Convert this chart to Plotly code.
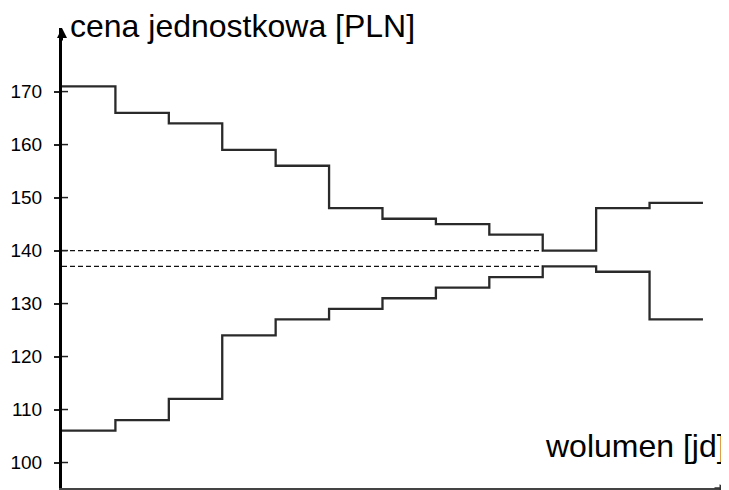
import plotly.graph_objects as go

# --- data ---
volume_edges = list(range(13))  # step boundaries 0..12
upper_prices = [171, 166, 164, 159, 156, 148, 146, 145, 143, 140, 148, 149]
lower_prices = [106, 108, 112, 124, 127, 129, 131, 133, 135, 137, 136, 127]
ref_levels = [140, 137]
ref_end = 9
y_ticks = [100, 110, 120, 130, 140, 150, 160, 170]

X_RANGE = [0, 12.45]
Y_RANGE = [95.19, 182.0]

def step_xy(edges, vals):
    xs = list(edges[:len(vals)]) + [edges[len(vals)]]
    ys = list(vals) + [vals[-1]]
    return xs, ys

fig = go.Figure()
for vals in (upper_prices, lower_prices):
    xs, ys = step_xy(volume_edges, vals)
    fig.add_trace(go.Scatter(x=xs, y=ys, mode="lines", line=dict(shape="hv", color="#2a2a2a", width=2.3),
                             showlegend=False, hoverinfo="skip", cliponaxis=False))

for lv in ref_levels:
    fig.add_trace(go.Scatter(x=[0, ref_end], y=[lv, lv], mode="lines",
                             line=dict(color="#111", width=1.3, dash="5px,3px"),
                             showlegend=False, hoverinfo="skip"))

PLOT_W = 665
shapes = []
# inner half of the crossing tick marks
for t in y_ticks:
    shapes.append(dict(type="line", xref="paper", yref="y", x0=0, x1=6/PLOT_W, y0=t, y1=t,
                       line=dict(color="#222", width=1.5)))

annotations = [
    dict(text="cena jednostkowa [PLN]", xref="paper", yref="paper", x=7/PLOT_W, y=1.004,
         xanchor="left", yanchor="middle", showarrow=False, borderpad=0,
         font=dict(family="Liberation Sans, Arial", size=32, color="#000")),
    dict(text="wolumen [jd]", xref="paper", yref="paper", x=1.0, y=0.0913,
         xanchor="right", yanchor="middle", showarrow=False, borderpad=0,
         font=dict(family="Liberation Sans, Arial", size=32, color="#000")),
    # axis arrowheads
    dict(x=0, y=1, xref="paper", yref="paper", ax=0, ay=14, showarrow=True,
         arrowhead=2, arrowsize=1.0, arrowwidth=2, arrowcolor="#000", text=""),
    dict(x=1, y=0, xref="paper", yref="paper", ax=-14, ay=0, showarrow=True,
         arrowhead=2, arrowsize=1.0, arrowwidth=1.5, arrowcolor="#333", text=""),
]

# page body has an 8px default margin, so the figure is offset by 8px
fig.update_layout(
    width=721, height=482,
    margin=dict(l=54, r=2, t=20, b=2),
    paper_bgcolor="white", plot_bgcolor="white",
    shapes=shapes, annotations=annotations,
    xaxis=dict(range=X_RANGE, showgrid=False, zeroline=False, showticklabels=False,
               ticks="", showline=True, linecolor="#444", linewidth=2, fixedrange=True),
    yaxis=dict(range=Y_RANGE, showgrid=False, zeroline=False, tickvals=y_ticks,
               ticktext=[str(v) for v in y_ticks], ticks="outside", ticklen=5, tickwidth=1.5,
               tickcolor="#222", showline=True, linecolor="#000", linewidth=3,
               ticklabelstandoff=8,
               tickfont=dict(family="Liberation Sans, Arial", size=19, color="#000"), fixedrange=True),
)

fig.write_html("out.html")
